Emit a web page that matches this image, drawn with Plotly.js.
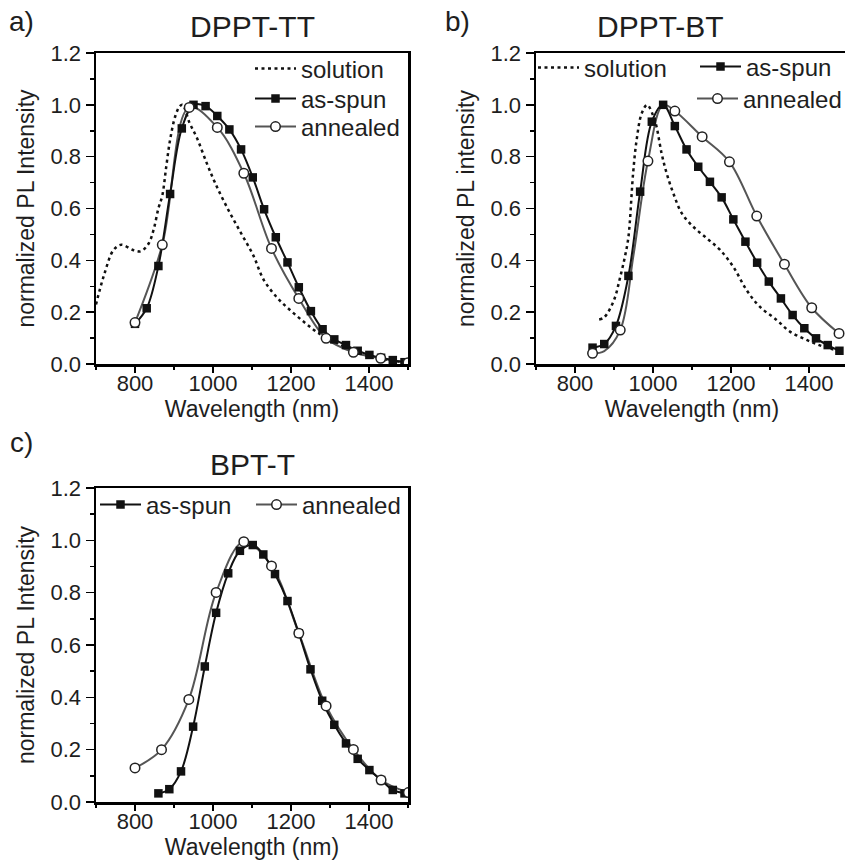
<!DOCTYPE html>
<html><head><meta charset="utf-8">
<script src="https://cdn.plot.ly/plotly-3.0.1.min.js"></script>
<style>html,body{margin:0;padding:0;overflow:hidden;background:#fff;width:845px;height:862px}#chart{width:860px;height:862px}</style>
</head><body><div id="chart"></div><script>
// ---------- data ----------
// Panel a: DPPT-TT
const aSolutionX = [700, 720, 745, 765, 795, 815, 835, 848, 860, 870, 880, 890, 903, 915, 922, 940, 958, 984, 1005, 1035, 1070, 1103, 1130, 1165, 1200, 1235, 1265, 1300, 1350, 1400, 1450, 1500];
const aSolutionY = [0.23, 0.34, 0.44, 0.46, 0.44, 0.435, 0.465, 0.52, 0.60, 0.65, 0.76, 0.865, 0.955, 0.995, 1.0, 0.93, 0.875, 0.775, 0.70, 0.607, 0.51, 0.42, 0.325, 0.255, 0.205, 0.16, 0.125, 0.093, 0.055, 0.03, 0.015, 0.005];
const aAsSpunX = [800, 830, 860, 890, 920, 950, 981, 1011, 1042, 1072, 1102, 1131, 1161, 1191, 1220, 1251, 1281, 1311, 1341, 1371, 1401, 1431, 1461, 1491];
const aAsSpunY = [0.155, 0.215, 0.378, 0.656, 0.909, 1.0, 0.995, 0.957, 0.905, 0.828, 0.72, 0.597, 0.489, 0.392, 0.296, 0.204, 0.134, 0.095, 0.073, 0.051, 0.035, 0.024, 0.015, 0.007];
const aAnnealedX = [800, 870, 939, 1011, 1079, 1150, 1220, 1290, 1360, 1430, 1500];
const aAnnealedY = [0.16, 0.46, 0.99, 0.913, 0.736, 0.446, 0.253, 0.099, 0.045, 0.022, 0.005];
const aAnnealedCurveX = [];
const aAnnealedCurveY = [];

// Panel b: DPPT-BT
const bSolutionX = [862, 875, 900, 915, 928, 937, 949, 958, 971, 985, 1000, 1009, 1022, 1035, 1052, 1074, 1103, 1138, 1172, 1206, 1240, 1274, 1317, 1351, 1394, 1437, 1480];
const bSolutionY = [0.172, 0.18, 0.247, 0.33, 0.414, 0.49, 0.736, 0.864, 0.967, 1.0, 0.96, 0.916, 0.813, 0.736, 0.659, 0.581, 0.53, 0.485, 0.44, 0.375, 0.285, 0.221, 0.17, 0.125, 0.093, 0.067, 0.05];
const bAsSpunX = [845, 875, 905, 937, 967, 997, 1026, 1056, 1086, 1116, 1146, 1176, 1206, 1237, 1267, 1297, 1328, 1358, 1388, 1418, 1448, 1478];
const bAsSpunY = [0.063, 0.077, 0.147, 0.34, 0.665, 0.935, 1.0, 0.918, 0.828, 0.761, 0.703, 0.643, 0.558, 0.472, 0.391, 0.318, 0.253, 0.189, 0.138, 0.099, 0.073, 0.051];
const bAnnealedX = [845, 916, 987, 1056, 1126, 1196, 1266, 1337, 1407, 1477];
const bAnnealedY = [0.041, 0.131, 0.783, 0.976, 0.877, 0.78, 0.571, 0.385, 0.217, 0.118];
const bAnnealedCurveX = [875, 950, 1026];
const bAnnealedCurveY = [0.05, 0.42, 1.0];

// Panel c: BPT-T
const cAsSpunX = [860, 888, 918, 949, 979, 1008, 1039, 1069, 1102, 1129, 1159, 1191, 1220, 1250, 1280, 1311, 1341, 1371, 1401, 1431, 1461, 1491];
const cAsSpunY = [0.033, 0.049, 0.117, 0.288, 0.518, 0.723, 0.874, 0.96, 0.982, 0.946, 0.871, 0.768, 0.645, 0.507, 0.387, 0.295, 0.224, 0.165, 0.122, 0.084, 0.046, 0.033];
const cAnnealedX = [800, 868, 938, 1008, 1079, 1150, 1220, 1290, 1360, 1431, 1501];
const cAnnealedY = [0.13, 0.20, 0.392, 0.801, 0.995, 0.902, 0.645, 0.367, 0.201, 0.084, 0.036];
const cAnnealedCurveX = [];
const cAnnealedCurveY = [];

const seriesNames = ['solution', 'as-spun', 'annealed'];
const panelTitles = ['DPPT-TT', 'DPPT-BT', 'BPT-T'];
const panelLetters = ['a)', 'b)', 'c)'];
const yTitles = ['normalized PL Intensity', 'normalized PL intensity', 'normalized PL Intensity'];
const xTitle = 'Wavelength (nm)';

// ---------- layout helpers ----------
const W = 860, H = 862;
const px = x => x / W;
const py = y => 1 - y / H;
const FONT = '"Liberation Sans", Arial, Helvetica, sans-serif';
const BLACK = '#111111', GRAY = '#555555', TXT = '#1e1e1e';

function merge(xs, ys, cx, cy) {
  const pts = xs.map((x, i) => [x, ys[i]]).concat(cx.map((x, i) => [x, cy[i]]));
  pts.sort((p, q) => p[0] - q[0]);
  return [pts.map(p => p[0]), pts.map(p => p[1])];
}

const traces = [];
function solutionTrace(x, y, xa, ya, lg) {
  return {x, y, xaxis: xa, yaxis: ya, mode: 'lines', name: seriesNames[0], legend: lg,
    line: {color: BLACK, width: 2.5, dash: '3px,3.5px', shape: 'spline'}};
}
function asSpunTrace(x, y, xa, ya, lg) {
  return {x, y, xaxis: xa, yaxis: ya, mode: 'lines+markers', name: seriesNames[1], legend: lg,
    line: {color: BLACK, width: 2, shape: 'spline'},
    marker: {symbol: 'square', size: 8.5, color: BLACK}};
}
function annealedTraces(x, y, cx, cy, xa, ya, lg) {
  const [lx, ly] = merge(x, y, cx, cy);
  const mk = {symbol: 'circle', size: 9.5, color: '#ffffff', line: {color: '#222', width: 1.5}};
  return [
    {x: lx, y: ly, xaxis: xa, yaxis: ya, mode: 'lines', showlegend: false,
      line: {color: GRAY, width: 2, shape: 'spline'}},
    {x, y, xaxis: xa, yaxis: ya, mode: 'markers', showlegend: false, marker: mk},
    {x: [null], y: [null], xaxis: xa, yaxis: ya, mode: 'lines+markers', name: seriesNames[2], legend: lg,
      line: {color: GRAY, width: 2}, marker: mk}
  ];
}

// panel a
traces.push(solutionTrace(aSolutionX, aSolutionY, 'x', 'y', 'legend'));
const aAnn = annealedTraces(aAnnealedX, aAnnealedY, aAnnealedCurveX, aAnnealedCurveY, 'x', 'y', 'legend3');
traces.push(aAnn[0]);
traces.push(asSpunTrace(aAsSpunX, aAsSpunY, 'x', 'y', 'legend2'));
traces.push(aAnn[1], aAnn[2]);
// panel b
traces.push(solutionTrace(bSolutionX, bSolutionY, 'x2', 'y2', 'legend4'));
const bAnn = annealedTraces(bAnnealedX, bAnnealedY, bAnnealedCurveX, bAnnealedCurveY, 'x2', 'y2', 'legend6');
traces.push(bAnn[0]);
traces.push(asSpunTrace(bAsSpunX, bAsSpunY, 'x2', 'y2', 'legend5'));
traces.push(bAnn[1], bAnn[2]);
// panel c
const cAnn = annealedTraces(cAnnealedX, cAnnealedY, cAnnealedCurveX, cAnnealedCurveY, 'x3', 'y3', 'legend8');
traces.push(cAnn[0]);
traces.push(asSpunTrace(cAsSpunX, cAsSpunY, 'x3', 'y3', 'legend7'));
traces.push(cAnn[1], cAnn[2]);

function xAxis(d0, d1, anchor) {
  return {domain: [px(d0), px(d1)], anchor, range: [700, 1500], tick0: 800, dtick: 200,
    showline: true, linewidth: 2.5, linecolor: '#000', mirror: true,
    ticks: 'outside', ticklen: 6, tickwidth: 1.5, tickcolor: '#000', ticklabelstandoff: -8,
    minor: {ticks: 'outside', dtick: 100, tick0: 700, ticklen: 3, tickwidth: 1.5, tickcolor: '#000', showgrid: false},
    showgrid: false, zeroline: false, tickfont: {size: 22, color: TXT},
    title: {text: xTitle, font: {size: 23, color: TXT}, standoff: 4}};
}
function topAxis(d0, d1, over, anchor) {
  return {domain: [px(d0), px(d1)], overlaying: over, anchor, side: 'top', range: [700, 1500],
    tick0: 700, dtick: 100, ticks: 'inside', ticklen: 4, tickwidth: 1.5, tickcolor: '#000',
    showticklabels: false, showgrid: false, zeroline: false, showline: false};
}
function yAxis(top, bottom, anchor, title) {
  return {domain: [py(bottom), py(top)], anchor, range: [0, 1.2], tick0: 0, dtick: 0.2, tickformat: '.1f',
    showline: true, linewidth: 2.5, linecolor: '#000', mirror: true,
    ticks: 'outside', ticklen: 8, tickwidth: 1.5, tickcolor: '#000',
    minor: {ticks: 'outside', dtick: 0.1, ticklen: 4, tickwidth: 1.5, tickcolor: '#000', showgrid: false},
    showgrid: false, zeroline: false, tickfont: {size: 22, color: TXT},
    title: {text: title, font: {size: 23, color: TXT}, standoff: 10}};
}
function legendAt(lineStartX, rowY) {
  return {x: px(lineStartX - 5), xanchor: 'left', y: py(rowY), yanchor: 'middle',
    bgcolor: 'rgba(0,0,0,0)', borderwidth: 0, font: {size: 24, color: TXT},
    itemwidth: 41, tracegroupgap: 0};
}
function ann(text, x, y, size) {
  return {text, x: px(x), y: py(y), xref: 'paper', yref: 'paper', xanchor: 'center', yanchor: 'middle',
    showarrow: false, font: {size, color: TXT}};
}

const layout = {
  width: W, height: H, margin: {l: 0, r: 0, t: 0, b: 0},
  paper_bgcolor: '#fff', plot_bgcolor: '#fff',
  font: {family: FONT, color: TXT},
  showlegend: true,
  xaxis: xAxis(96, 408, 'y'),
  yaxis: yAxis(53, 364, 'x', yTitles[0]),
  xaxis2: xAxis(536, 848, 'y2'),
  yaxis2: yAxis(53, 364, 'x2', yTitles[1]),
  xaxis3: xAxis(96, 408, 'y3'),
  yaxis3: yAxis(488, 802, 'x3', yTitles[2]),
  xaxis4: topAxis(96, 408, 'x', 'y'),
  xaxis5: topAxis(536, 848, 'x2', 'y2'),
  xaxis6: topAxis(96, 408, 'x3', 'y3'),
  legend: legendAt(255, 69),
  legend2: legendAt(255, 99),
  legend3: legendAt(255, 127),
  legend4: legendAt(538, 68),
  legend5: legendAt(700, 67),
  legend6: legendAt(697, 99),
  legend7: legendAt(100, 505),
  legend8: legendAt(256, 505),
  annotations: [
    ann(panelTitles[0], 252, 27, 30),
    ann(panelTitles[1], 660, 27, 30),
    ann(panelTitles[2], 252, 465, 30),
    ann(panelLetters[0], 21, 22, 28),
    ann(panelLetters[1], 457, 22, 28),
    ann(panelLetters[2], 21, 442, 28)
  ]
};

Plotly.newPlot('chart', traces, layout, {staticPlot: true, displayModeBar: false});
</script></body></html>
